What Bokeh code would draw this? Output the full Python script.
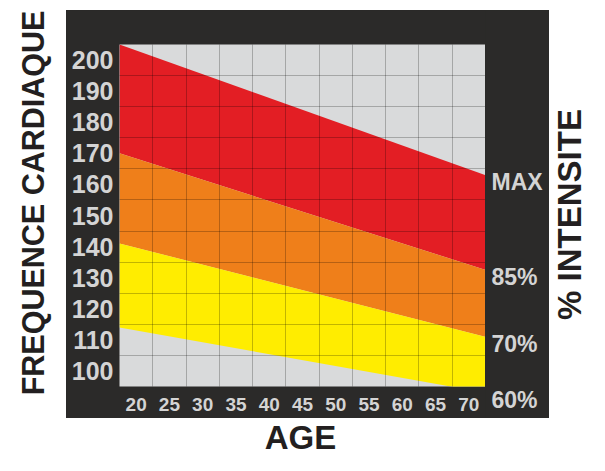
import math
from bokeh.plotting import figure
from bokeh.models import Range1d, FixedTicker, Spacer
from bokeh.layouts import row, column
from bokeh.core.properties import value
from bokeh.embed import file_html
from bokeh.resources import INLINE

# ---- data ----
ages = [20, 25, 30, 35, 40, 45, 50, 55, 60, 65, 70]
hr_ticks = [100, 110, 120, 130, 140, 150, 160, 170, 180, 190, 200]
age_span = [17.5, 72.5]          # ages at left / right edge of the chart
hr_max = [205, 163]              # top of red zone (MAX)
hr_85 = [170, 132.5]             # top of orange zone (85%)
hr_70 = [141, 111]               # top of yellow zone (70%)
hr_60 = [114, 93]                # bottom of yellow zone (60%)
zone_labels = ["MAX", "85%", "70%", "60%"]
x_title = "AGE"
y_title = "FREQUENCE CARDIAQUE"
right_title = "% INTENSITE"

FONT = "Liberation Sans"
DARK = "#2b2a29"
GRAY = "#d9dadb"
RED = "#e31e24"
ORANGE = "#ef7f1a"
YELLOW = "#ffed00"
LIGHT = "#d4d4d4"
BLACK = "#231f20"

# panel geometry (pixels)
FRAME_W, FRAME_H = 366, 342
B_LEFT, B_TOP, B_BOTTOM, LABEL_W = 53, 34, 32, 64
PANEL_H = B_TOP + FRAME_H + B_BOTTOM

hr_lo, hr_hi = hr_ticks[0] - 5, hr_ticks[-1] + 5


def no_align(f):
    if "frame_align" in f.properties():
        f.frame_align = False
    return f


# ---- main chart ----
main = figure(width=B_LEFT + FRAME_W, height=PANEL_H,
              x_range=Range1d(age_span[0], age_span[-1]),
              y_range=Range1d(hr_lo, hr_hi),
              output_backend="svg", toolbar_location=None,
              min_border_left=B_LEFT, min_border_right=0,
              min_border_top=B_TOP, min_border_bottom=B_BOTTOM,
              border_fill_color=DARK, background_fill_color=GRAY,
              outline_line_color=None)
no_align(main)

main.varea(x=age_span, y1=hr_85, y2=hr_max, fill_color=RED)
main.varea(x=age_span, y1=hr_70, y2=hr_85, fill_color=ORANGE)
main.varea(x=age_span, y1=hr_60, y2=hr_70, fill_color=YELLOW)

main.xgrid.ticker = FixedTicker(ticks=[a + 2.5 for a in ages[:-1]])
main.ygrid.ticker = FixedTicker(ticks=[h + 5 for h in hr_ticks[:-1]])
for g in (main.xgrid, main.ygrid):
    g.grid_line_color = "black"
    g.grid_line_alpha = 0.24
    g.grid_line_width = 1
    g.level = "overlay"

for ax in (main.xaxis, main.yaxis):
    ax.axis_line_color = None
    ax.major_tick_line_color = None
    ax.minor_tick_line_color = None
    ax.major_tick_out = 0
    ax.major_tick_in = 0
    ax.major_label_text_font = FONT
    ax.major_label_text_font_style = "bold"
    ax.major_label_text_color = LIGHT

main.xaxis.ticker = FixedTicker(ticks=ages)
main.xaxis.major_label_text_font_size = "19px"
main.xaxis.major_label_standoff = 11
main.yaxis.ticker = FixedTicker(ticks=hr_ticks)
main.yaxis.major_label_text_font_size = "25px"
main.yaxis.major_label_standoff = 6

# ---- zone labels strip (same vertical scale as the chart) ----
upp = (hr_hi - hr_lo) / FRAME_H
zones = figure(width=LABEL_W, height=PANEL_H,
               x_range=Range1d(0, LABEL_W),
               y_range=Range1d(hr_lo - B_BOTTOM * upp, hr_hi + B_TOP * upp),
               output_backend="svg", toolbar_location=None,
               x_axis_location=None, y_axis_location=None,
               min_border=0, outline_line_color=None,
               background_fill_color=DARK, border_fill_color=DARK)
no_align(zones)
zones.grid.visible = False
ends = [hr_max[-1], hr_85[-1], hr_70[-1], hr_60[-1]]
zones.text(x=[6] * len(ends), y=[e - 7 * upp for e in ends], text=zone_labels,
           text_align="left", text_baseline="middle",
           text_font=value(FONT), text_font_size=value("23px"),
           text_font_style="bold", text_color=LIGHT)

# ---- title strips ----
def strip(w, h):
    f = figure(width=w, height=h, x_range=Range1d(0, w), y_range=Range1d(0, h),
               output_backend="svg", toolbar_location=None,
               x_axis_location=None, y_axis_location=None,
               min_border=0, outline_line_color=None,
               background_fill_color="white", border_fill_color="white")
    f.grid.visible = False
    return no_align(f)

TOTAL_H = 455
left = strip(66, TOTAL_H)
left.text(x=[32.5], y=[TOTAL_H - 202.5], text=[y_title], angle=math.pi / 2,
          text_align="center", text_baseline="middle",
          text_font=value(FONT), text_font_size=value("30.5px"),
          text_font_style="bold", text_color=BLACK)

right = strip(40, TOTAL_H)
right.text(x=[20], y=[TOTAL_H - 214], text=[right_title], angle=math.pi / 2,
           text_align="center", text_baseline="middle",
           text_font=value(FONT), text_font_size=value("33px"),
           text_font_style="bold", text_color=BLACK)

bottom_h = TOTAL_H - 10 - PANEL_H
bottom = strip(B_LEFT + FRAME_W + LABEL_W, bottom_h)
bottom.text(x=[234], y=[bottom_h / 2], text=[x_title],
            text_align="center", text_baseline="middle",
            text_font=value(FONT), text_font_size=value("33px"),
            text_font_style="bold", text_color=BLACK)

panel = row(main, zones, styles={"background-color": DARK})
layout = row(left,
             column(Spacer(width=B_LEFT + FRAME_W + LABEL_W, height=10),
                    panel, bottom),
             right)

open("out.html", "w").write(file_html(layout, INLINE))
